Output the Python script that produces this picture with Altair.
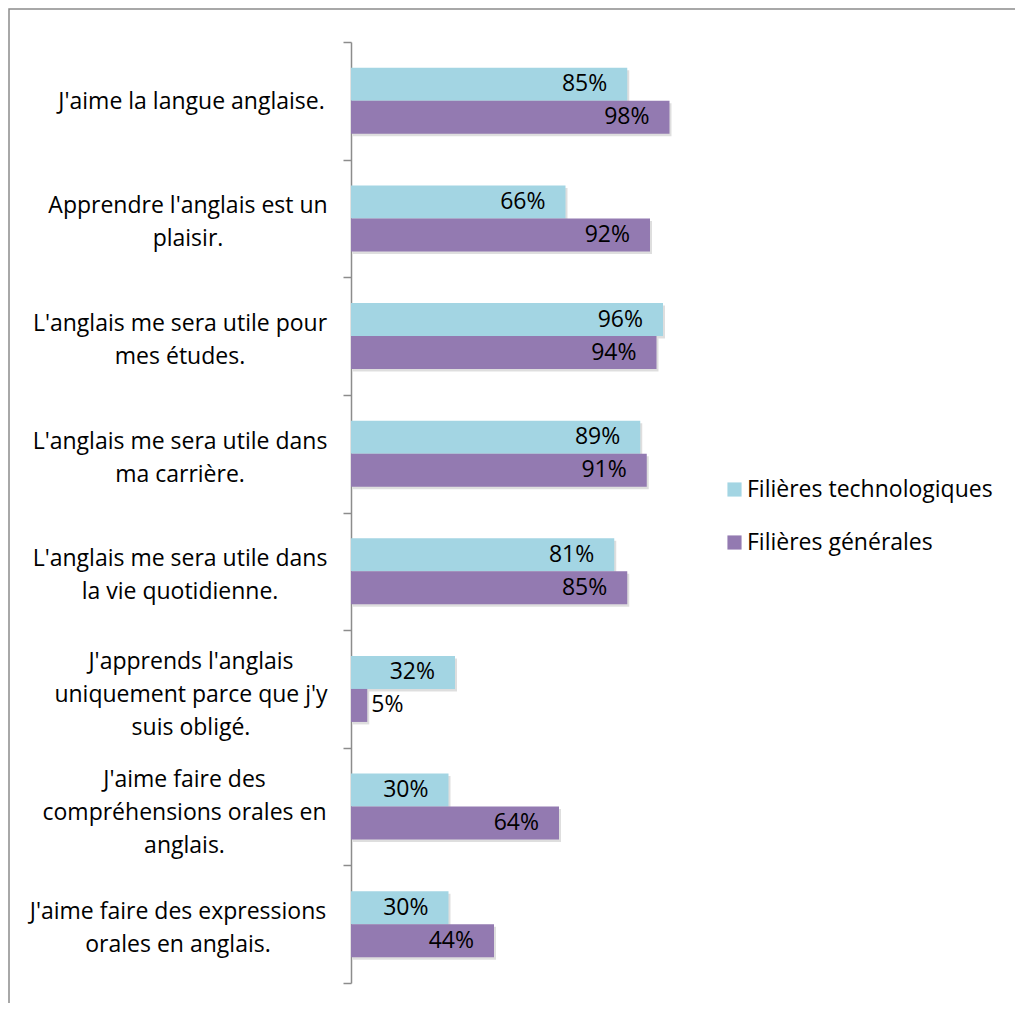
import altair as alt
import pandas as pd

categories = [
    "J'aime la langue anglaise.",
    "Apprendre l'anglais est un|plaisir.",
    "L'anglais me sera utile pour|mes études.",
    "L'anglais me sera utile dans|ma carrière.",
    "L'anglais me sera utile dans|la vie quotidienne.",
    "J'apprends l'anglais|uniquement parce que j'y|suis obligé.",
    "J'aime faire des|compréhensions orales en|anglais.",
    "J'aime faire des expressions|orales en anglais.",
]
tech = [85, 66, 96, 89, 81, 32, 30, 30]
gen = [98, 92, 94, 91, 85, 5, 64, 44]
series = ["Filières technologiques", "Filières générales"]
colors = ["#A3D5E3", "#937AB1"]

# approximate pixel width of the widest line of each label (Open Sans 23px),
# used so that every label block is right-aligned with its lines centred
label_block_widths = [270, 277, 293, 293, 293, 271, 284, 297]

rows = []
for c, t, g in zip(categories, tech, gen):
    rows.append({"cat": c, "serie": series[0], "v": t / 100, "lab": f"{t}%"})
    rows.append({"cat": c, "serie": series[1], "v": g / 100, "lab": f"{g}%"})
df = pd.DataFrame(rows)

W, H = 325, 941
FONT = "Open Sans"
FS = 23
LH = 33
TEXT_RIGHT = 17  # gap between widest line end and tick end

pad_conditions = [
    {"test": "datum.value === " + '"' + c + '"', "value": TEXT_RIGHT + w / 2}
    for c, w in zip(categories, label_block_widths)
]

y = alt.Y(
    "cat:N",
    sort=categories,
    scale=alt.Scale(paddingInner=0, paddingOuter=0),
    axis=alt.Axis(
        title=None,
        tickBand="extent",
        tickSize=8,
        tickWidth=1.5,
        tickColor="#8c8c8c",
        domainColor="#8c8c8c",
        domainWidth=1.5,
        labelPadding={"condition": pad_conditions, "value": 153},
        labelAlign="center",
        labelBaseline="middle",
        labelExpr="isString(datum.value) ? split(datum.value, '|') : ''",
        labelOffset={
            "condition": [
                {"test": "isString(datum.value) && length(split(datum.value, '|')) == 3", "value": -27},
                {"test": "isString(datum.value) && length(split(datum.value, '|')) == 2", "value": -12.5},
            ],
            "value": 0.5,
        },
        labelFont=FONT,
        labelFontSize=FS,
        labelColor="#000000",
        labelLineHeight=LH,
        labelLimit=0,
    ),
)
yoff = alt.YOffset("serie:N", sort=series, scale=alt.Scale(paddingOuter=0.782, paddingInner=0))
step = H / len(categories)
yoff_shadow = alt.YOffset(
    "serie:N", sort=series,
    scale=alt.Scale(paddingOuter=0.782, paddingInner=0, range=[2.5, step + 2.5]),
)
x = alt.X("v:Q", scale=alt.Scale(domain=[0, 1]), axis=None)

base = alt.Chart(df)

frame = alt.Chart(alt.Data(values=[{"a": 1}])).mark_rect(
    filled=False, stroke="#8c8c8c", strokeWidth=1.5
).encode(
    x=alt.value(-342), y=alt.value(-33), x2=alt.value(W + 600), y2=alt.value(H + 200)
)

shadow = base.mark_bar(color="#000000", opacity=0.13, xOffset=2).encode(
    x=x, y=y, yOffset=yoff_shadow
)

bars = base.mark_bar().encode(
    x=x,
    y=y,
    yOffset=yoff,
    color=alt.Color(
        "serie:N",
        sort=series,
        scale=alt.Scale(domain=series, range=colors),
        legend=alt.Legend(
            title=None,
            orient="none",
            legendX=372,
            legendY=436,
            symbolType="square",
            symbolSize=200,
            symbolStrokeWidth=0,
            labelFont=FONT,
            labelFontSize=FS,
            labelColor="#000000",
            rowPadding=29,
            labelOffset=1,
            padding=0,
            labelLimit=0,
        ),
    ),
)

inside = base.transform_filter("datum.v >= 0.1").mark_text(
    align="right", baseline="middle", dx=-20, font=FONT, fontSize=FS, color="#000000"
).encode(x=x, y=y, yOffset=yoff, text="lab:N")

outside = base.transform_filter("datum.v < 0.1").mark_text(
    align="left", baseline="middle", dx=4, font=FONT, fontSize=FS, color="#000000"
).encode(x=x, y=y, yOffset=yoff, text="lab:N")

front = alt.layer(bars, inside, outside)

chart = alt.layer(frame, shadow, front).resolve_scale(yOffset="independent").properties(
    width=W,
    height=H,
    background="#ffffff",
    autosize=alt.AutoSizeParams(type="none"),
    padding={"left": 343, "top": 34, "right": 339, "bottom": 20},
).configure_view(strokeWidth=0, stroke="transparent")

chart.save("out.html", embed_options={"renderer": "svg", "actions": False})
